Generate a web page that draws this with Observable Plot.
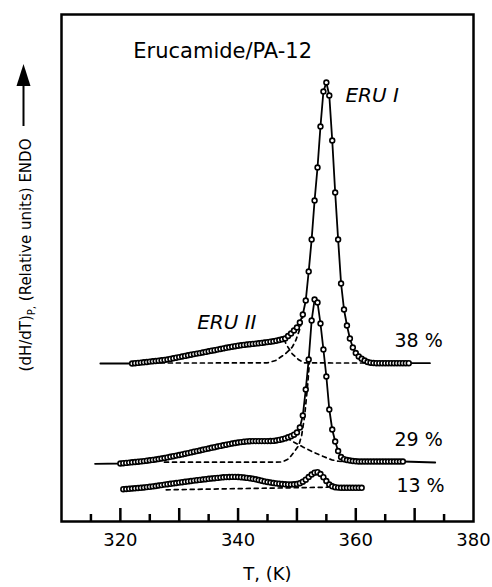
<!DOCTYPE html>
<html><head><meta charset="utf-8">
<script src="https://cdn.jsdelivr.net/npm/d3@7"></script>
<script src="https://cdn.jsdelivr.net/npm/@observablehq/plot@0.6"></script>
<style>body{margin:0;background:#fff;}</style>
</head><body><div id="chart"></div>
<script>
// ---- data (T in K, dH/dT in relative units) ----
const T_STEP = 0.5;          // marker spacing
const t38Start = 322;
const v38 = [158.0,158.3,158.6,158.9,159.2,159.5,159.9,160.2,160.5,160.8,161.2,161.6,162.0,162.6,163.2,163.8,164.4,165.0,165.6,166.2,166.8,167.4,167.9,168.4,169.0,169.6,170.2,170.8,171.3,171.9,172.5,173.1,173.7,174.2,174.8,175.3,175.8,176.2,176.6,177.0,177.3,177.6,177.9,178.2,178.6,179.0,179.4,179.8,180.2,180.8,181.5,182.2,183.0,
  185.5,188,191,194,199,207,221,250,282,321,354,395,430,439,426,381,329,282,238,212,196,183,174,168.5,165,162.7,161,159.5,158.8,158.5,
  158.3,158.3,158.3,158.3,158.3,158.3,158.3,158.3,158.3,158.3,158.3,158.3];
const tail38T = [316.6, 372.6];
const tail38V = [158.0, 158.3];

const t29Start = 320;
const v29 = [58.0,58.3,58.6,58.9,59.2,59.5,59.8,60.1,60.4,60.8,61.2,61.6,62.0,62.5,63.0,63.5,64.1,64.7,65.3,65.9,66.5,67.1,67.8,68.4,69.1,69.8,70.4,71.0,71.7,72.4,73.0,73.7,74.3,75.0,75.6,76.2,76.8,77.4,78.0,78.5,79.0,79.4,79.8,80.1,80.3,80.4,80.4,80.4,80.4,80.4,80.4,80.5,80.6,81.0,81.6,82.3,83.1,84.2,85.3,86.8,89,94,106,132,162,201,222,219,198,172,145,112,92,80,70.5,64.5,62.3,61.5,61,60.5,60.2,
  60,60,60,60,60,60,60,60,60,60,60,60,60,60,60,60];
const tail29T = [315.7, 373.5];
const tail29V = [57.7, 59.0];

const t13Start = 320.5;
const v13 = [32.3,32.5,32.7,33.0,33.2,33.5,33.7,34.0,34.4,34.7,35.1,35.5,36.0,36.4,36.9,37.3,37.7,38.1,38.5,38.9,39.3,39.7,40.1,40.5,40.9,41.3,41.6,42.0,42.3,42.7,43.0,43.3,43.6,43.9,44.2,44.4,44.5,44.6,44.6,44.5,44.3,44.0,43.6,43.2,42.7,42.2,41.5,40.8,40.1,39.5,39.0,38.5,38.1,37.8,37.5,37.2,37.1,37.0,37.2,37.5,38.3,39.8,41.8,44.5,47.0,48.8,49.3,47.5,44.3,40.5,37.0,35.2,34.3,33.9,
  33.7,33.7,33.7,33.7,33.7,33.7,33.7,33.7];

// deconvoluted components (dashed)
const eru1_38T = [326.8,335,345,346.4,348.05,349.2,349.8,350.5,351];
const eru1_38V = [158.5,158.5,158.7,161,167.7,174.3,181,192.7,205];
const eru2_38T = [347.8,348.3,349.2,350.3,351.2,356,362];
const eru2_38V = [182,176,167.7,161.7,158.7,158.5,158.5];
const eru1_29T = [327.5,340,347.5,348.6,349.5,350.3,350.8,351.3,351.8,352.2];
const eru1_29V = [59.3,59.3,59.5,62.7,69.3,76,86,105,135,165];
const eru2_29T = [348.3,349.5,351.1,352.8,354.5,355.9,357,358.5];
const eru2_29V = [83.6,79.3,74.3,69.3,65,61.7,60.3,60];
const base13T = [327.8,355.3];
const base13V = [31.7,34.3];

// axis ticks
const majorTicks = [320,330,340,350,360,370];
const minorTicks = [315,325,335,345,355,365,375];
const tickLabels = [320,340,360,380];

// annotation texts
const titleText = "Erucamide/PA-12";
const peakLabels = ["ERU I","ERU II"];
const peakLabelT = [358.25,333.05];
const peakLabelV = [426,198.5];
const pctLabels = ["38 %","29 %","13 %"];
const pctLabelT = [366.57,366.57,366.9];
const pctLabelV = [181,82,35.7];
const xLabel = "T, (K)";
const yLabel = "(dH/dT)P, (Relative units) ENDO";

// ---- build tables ----
const series = (start, vals) => vals.map((v, i) => ({T: start + i * T_STEP, v}));
const s38 = series(t38Start, v38);
const s29 = series(t29Start, v29);
const s13 = series(t13Start, v13);
const withTails = (s, tT, tV) => [{T: tT[0], v: tV[0]}, ...s, {T: tT[1], v: tV[1]}];
const zip = (a, b) => a.map((T, i) => ({T, v: b[i]}));

const dashOpts = {x: "T", y: "v", stroke: "black", strokeWidth: 1.7, strokeDasharray: "4 4"};
const lineOpts = {x: "T", y: "v", stroke: "black", strokeWidth: 1.8};
const dotOpts = {x: "T", y: "v", r: 2.4, stroke: "black", strokeWidth: 1.6, fill: "white"};

const plot = Plot.plot({
  width: 492, height: 587,
  marginLeft: 61, marginRight: 19, marginTop: 14, marginBottom: 66,
  x: {domain: [310, 380], label: null},
  y: {domain: [0, 507], axis: null, label: null},
  style: {fontFamily: "DejaVu Sans", background: "white", color: "black", overflow: "visible"},
  marks: [
    Plot.line(zip(eru1_38T, eru1_38V), dashOpts),
    Plot.line(zip(eru2_38T, eru2_38V), dashOpts),
    Plot.line(zip(eru1_29T, eru1_29V), dashOpts),
    Plot.line(zip(eru2_29T, eru2_29V), dashOpts),
    Plot.line(zip(base13T, base13V), dashOpts),
    Plot.line(withTails(s38, tail38T, tail38V), lineOpts),
    Plot.line(withTails(s29, tail29T, tail29V), lineOpts),
    Plot.line(s13, lineOpts),
    Plot.dot(s38, dotOpts),
    Plot.dot(s29, dotOpts),
    Plot.dot(s13, dotOpts),
    Plot.frame({stroke: "black", strokeWidth: 2.5}),
    Plot.axisX({ticks: majorTicks, tickSize: -13, tickFormat: () => "", strokeWidth: 2.5, label: null}),
    Plot.axisX({ticks: minorTicks, tickSize: -7, tickFormat: () => "", strokeWidth: 2.5, label: null}),
    Plot.axisX({ticks: tickLabels, tickSize: 0, tickPadding: 12, fontSize: 18, label: null}),
    Plot.text([xLabel], {frameAnchor: "bottom", dy: 58, fontSize: 18}),
    Plot.text([yLabel], {frameAnchor: "left", textAnchor: "middle", dx: -35.5, dy: -13, rotate: -90, fontSize: 15}),
    Plot.text([titleText], {x: [322.2], y: [470], textAnchor: "start", fontSize: 21}),
    Plot.text(peakLabels, {x: peakLabelT, y: peakLabelV, textAnchor: "start", fontSize: 20, fontStyle: "italic"}),
    Plot.text(pctLabels, {x: pctLabelT, y: pctLabelV, textAnchor: "start", fontSize: 19})
  ]
});

const svg = d3.select(plot);
// subscript P in y label
svg.selectAll("text").filter(function() { return this.textContent === yLabel; }).each(function() {
  const t = d3.select(this);
  t.text(null);
  t.append("tspan").text("(dH/dT)");
  t.append("tspan").attr("font-size", 10).attr("dy", 4).text("P,");
  t.append("tspan").attr("dy", -4).text(" (Relative units) ENDO");
});
// ENDO arrow (decoration next to y label)
svg.append("line").attr("x1", 23.5).attr("x2", 23.5).attr("y1", 126).attr("y2", 82)
  .attr("stroke", "black").attr("stroke-width", 2);
svg.append("path").attr("d", "M23.5,64L16.5,86L30.5,86Z").attr("fill", "black");

document.getElementById("chart").appendChild(plot);
</script>
</body></html>
